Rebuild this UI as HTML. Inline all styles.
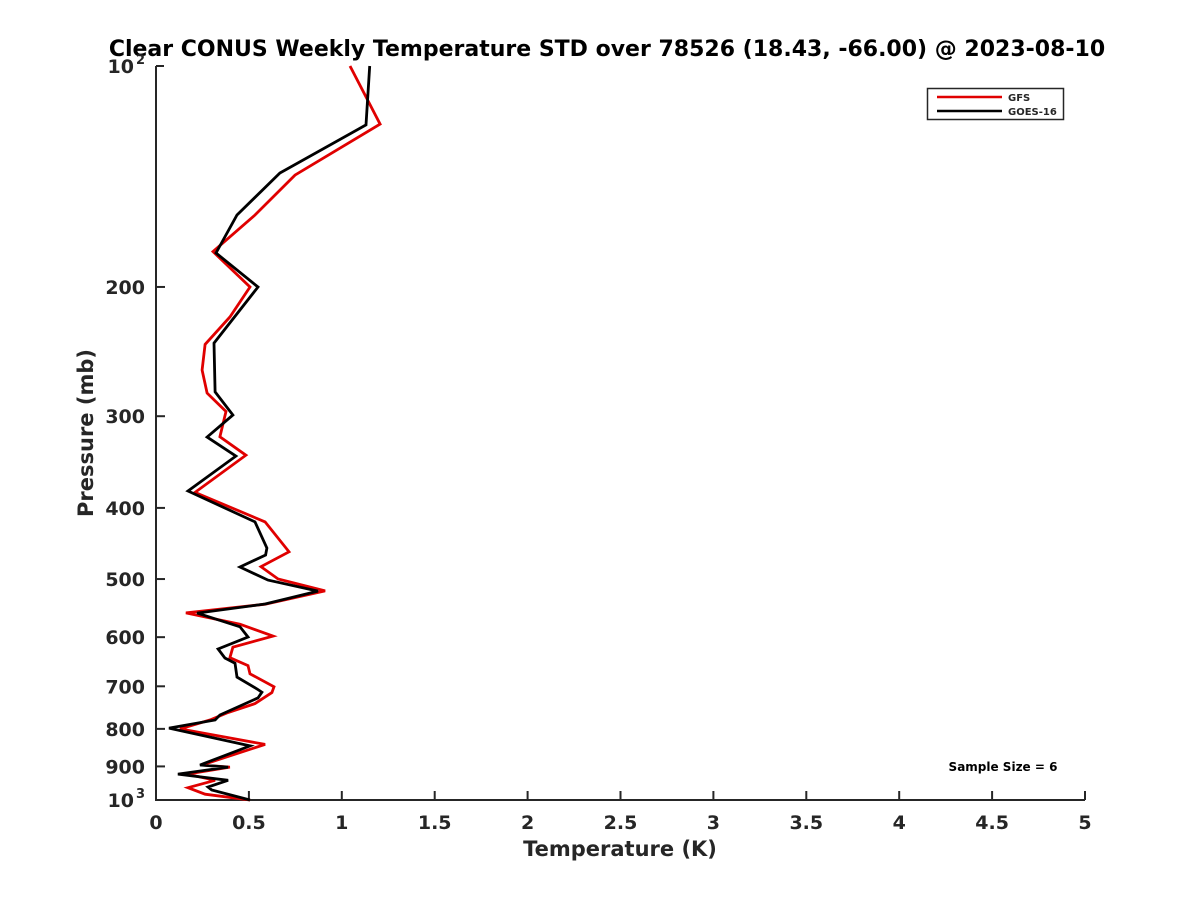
<!DOCTYPE html>
<html><head><meta charset="utf-8"><style>
html,body{margin:0;padding:0;background:#fff;}
svg text{font-family:"DejaVu Sans","Liberation Sans",sans-serif;font-weight:bold;fill:#262626;}
</style></head><body>
<svg id="chart" width="1200" height="900" xmlns="http://www.w3.org/2000/svg">
<rect width="1200" height="900" fill="#fff"/>
<text x="607" y="56" text-anchor="middle" font-size="22" style="fill:#000">Clear CONUS Weekly Temperature STD over 78526 (18.43, -66.00) @ 2023-08-10</text>
<g id="axes"></g>
<g id="series"></g>
<g>
<rect x="927.5" y="88.5" width="136" height="31" fill="#fff" stroke="#262626" stroke-width="1.5"/>
<line x1="937" y1="97" x2="1002" y2="97" stroke="#e00000" stroke-width="2.5"/>
<text x="1008" y="101" font-size="10">GFS</text>
<line x1="937" y1="111" x2="1002" y2="111" stroke="#000" stroke-width="2.5"/>
<text x="1008" y="115" font-size="10">GOES-16</text>
</g>
<text x="1003" y="771" text-anchor="middle" font-size="12" style="fill:#000">Sample Size = 6</text>
<text x="620" y="856" text-anchor="middle" font-size="21">Temperature (K)</text>
<text transform="translate(93,433) rotate(-90)" text-anchor="middle" font-size="21">Pressure (mb)</text>
</svg>
<script>
const xTicks=[0,0.5,1,1.5,2,2.5,3,3.5,4,4.5,5];
const xTickLabels=["0","0.5","1","1.5","2","2.5","3","3.5","4","4.5","5"];
const yTicks=[200,300,400,500,600,700,800,900];
const yTickLabels=["200","300","400","500","600","700","800","900"];
const gfsTemp=[1.044,1.206,0.748,0.533,0.307,0.506,0.398,0.264,0.248,0.275,0.377,0.344,0.484,0.21,0.587,0.716,0.565,0.657,0.91,0.587,0.161,0.452,0.63,0.414,0.398,0.495,0.506,0.635,0.624,0.533,0.388,0.29,0.129,0.587,0.247,0.398,0.167,0.318,0.172,0.264,0.506];
const gfsPres=[100,120,140.8,159.6,179,200,219.8,239.5,259.5,279,295.6,320,339,381,418,459,481,500,519,541,556,576,598,619,640,656,673,701,714,739,760,778,800,840,896,902,922,940,962,982,1000];
const goesTemp=[1.15,1.13,0.667,0.436,0.323,0.549,0.312,0.318,0.414,0.275,0.43,0.172,0.533,0.597,0.59,0.452,0.603,0.872,0.587,0.221,0.452,0.495,0.334,0.371,0.425,0.436,0.544,0.57,0.549,0.344,0.318,0.07,0.506,0.237,0.388,0.118,0.388,0.28,0.30,0.506];
const goesPres=[100,120.3,139.9,159.6,179.8,200,238.5,278,298.9,320.3,340,379.3,418,453.6,463.7,481.5,501.6,519.2,540.8,556.3,580.8,599.7,622.7,640.6,651,680,706,713,726,766,778,798,844,896,902,922,940,960,969,1000];

const X0=156,X1=1085,Y0=66,Y1=800;
const xs=v=>X0+(v-0)/(5-0)*(X1-X0);
const ys=p=>Y0+(Math.log10(p)-2)*(Y1-Y0);
const NS="http://www.w3.org/2000/svg";
function mk(tag,attrs,parent){const e=document.createElementNS(NS,tag);for(const k in attrs)e.setAttribute(k,attrs[k]);parent.appendChild(e);return e;}
const axes=document.getElementById('axes');
const ax=mk('path',{d:`M${X0},${Y0} H${X0+8} M${X0},${Y0} V${Y1} H${X1}`,stroke:'#262626','stroke-width':2,fill:'none'},axes);


xTicks.forEach((t,i)=>{
  const x=xs(t);
  const l=mk('line',{x1:x,y1:Y1,x2:x,y2:Y1-9,stroke:'#262626','stroke-width':2},axes);
  
  
  const tx=mk('text',{x:x,y:Y1+29,'text-anchor':'middle','font-size':19},axes);
  
  
  tx.textContent=xTickLabels[i];
});
yTicks.forEach((t,i)=>{
  const y=ys(t);
  const l=mk('line',{x1:X0,y1:y,x2:X0+9,y2:y,stroke:'#262626','stroke-width':2},axes);
  
  
  const tx=mk('text',{x:X0-11,y:y+7,'text-anchor':'end','font-size':19},axes);
  
  
  tx.textContent=yTickLabels[i];
});
[[100,'2'],[1000,'3']].forEach(([p,e])=>{
  const y=ys(p);
  const tx=mk('text',{x:X0-22,y:y+7,'text-anchor':'end','font-size':19},axes);
  
  
  tx.textContent='10';
  const sp=mk('text',{x:X0-11,y:y-2,'text-anchor':'end','font-size':13},axes);
  
  
  sp.textContent=e;
});
const ser=document.getElementById('series');
function line(T,P,color,name){
  const d=T.map((v,i)=>(i?'L':'M')+xs(v).toFixed(1)+','+ys(P[i]).toFixed(1)).join(' ');
  const p=mk('path',{d:d,stroke:color,'stroke-width':2.8,fill:'none','stroke-linejoin':'miter'},ser);
  
  
}
line(gfsTemp,gfsPres,'#e00000','gfs-line');
line(goesTemp,goesPres,'#000000','goes16-line');
</script>
</body></html>
